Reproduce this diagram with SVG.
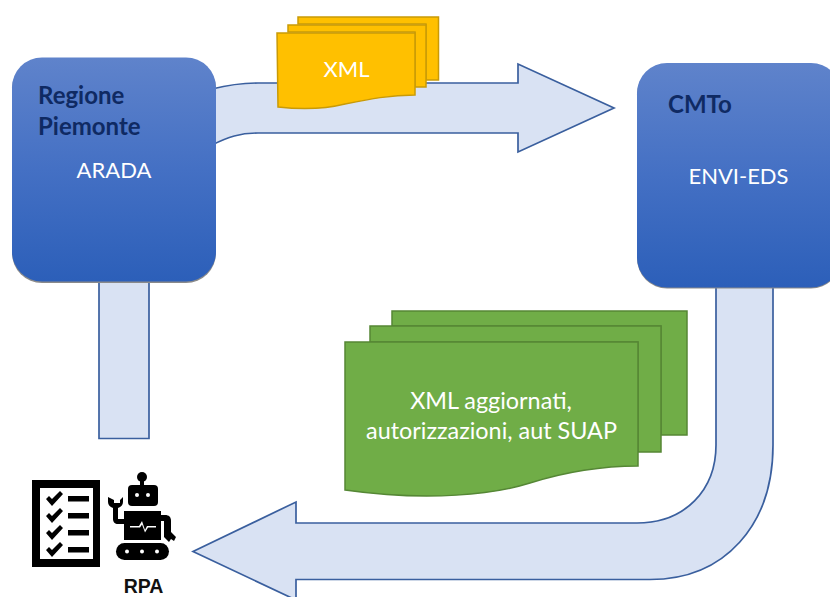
<svg xmlns="http://www.w3.org/2000/svg" width="830" height="597" viewBox="0 0 830 597">
<style>
.t{font-family:"Lato","Open Sans","Liberation Sans",sans-serif;font-size:22px;fill:#fff;text-anchor:middle}
.b{font-size:23.400px}
.h{font-family:"Lato","Open Sans","Liberation Sans",sans-serif;font-size:24px;font-weight:700;fill:#0f2a63}
.ar{fill:#d9e2f3;stroke:#3a5f9e;stroke-width:1.700}
.y{fill:#ffc000;stroke:#c99a06;stroke-width:1.500}
.g{fill:#70ad47;stroke:#558735;stroke-width:1.500}
.k{fill:#000}
.n{fill:url(#blue)}
.s{fill:#8a8a8a}
</style>
<defs>
<linearGradient id="blue" x1="0" y1="0" x2="0" y2="1"><stop offset="0" stop-color="#5f83cb"/><stop offset="0.5" stop-color="#4470c4"/><stop offset="1" stop-color="#2c5fb9"/></linearGradient>
</defs>
<rect width="830" height="597" fill="#fff"/>
<g id="connectors">
<path class="ar" d="M212 89C228 85 240 83 258 83H518V64L614 108L518 152V133H258C240 133 228 137 212 145Z"/>
<path class="ar" d="M99 278H149V438.500H99Z"/>
<path class="ar" d="M716 284H773V445C773 525 725 579.500 650 579.500H296V600L193 551.500L296 502V523H637C685 523 716 490 716 445Z"/>
</g>
<g id="node-regione">
<rect class="s" x="12" y="59" width="204" height="224" rx="30"/>
<rect class="n" x="12" y="57.500" width="204" height="224" rx="30"/>
<text class="h" x="38" y="104">Regione</text>
<text class="h" x="38" y="135">Piemonte</text>
<text class="t" x="114" y="178">ARADA</text>
</g>
<g id="node-cmto">
<rect class="s" x="637" y="64.500" width="204" height="224" rx="30"/>
<rect class="n" x="637" y="63" width="204" height="224.500" rx="30"/>
<text class="h" x="668" y="113">CMTo</text>
<text class="t" x="738.500" y="184">ENVI-EDS</text>
</g>
<g id="node-xml">
<path class="y" d="M298 17H438.500V80H426V24H298Z"/>
<path class="y" d="M288 25H426V87H415V32H288Z"/>
<path class="y" d="M277 33H415V95C390 95 370 99 345 104C325 109 305 110 278 107Z"/>
<text class="t" x="346.500" y="77">XML</text>
</g>
<g id="node-xml-aggiornati">
<path class="g" d="M392 311H687V435H661V326H392Z"/>
<path class="g" d="M370 326H661V452H638V342H370Z"/>
<path class="g" d="M345 342H638V466C600 466 565 472 530 483C495 494 430 502 345 490Z"/>
<text class="t b" x="491" y="409">XML aggiornati,</text>
<text class="t b" x="491.500" y="439">autorizzazioni, aut SUAP</text>
</g>
<g id="node-rpa">
<path class="k" fill-rule="evenodd" d="M32 480H100V567H32ZM40 488V559H93V488Z"/>
<g class="k">
<path d="M46 499l3-3 3 3 8-8 3 3-11 12zM46 516l3-3 3 3 8-8 3 3-11 12zM46 533l3-3 3 3 8-8 3 3-11 12zM46 550l3-3 3 3 8-8 3 3-11 12z"/>
<rect x="68" y="496" width="21" height="5.500"/><rect x="68" y="513" width="21" height="5.500"/><rect x="68" y="530" width="21" height="5.500"/><rect x="68" y="547" width="21" height="5.500"/>
<circle cx="142" cy="477" r="5"/><rect x="140" y="479" width="4" height="8"/>
<rect x="128" y="485" width="30" height="21" rx="4"/>
<rect x="124" y="511" width="37" height="29"/>
<rect x="116" y="543" width="53" height="17" rx="8.500"/>
<path d="M108 497v5c0 3 2 5 5 6v11c0 3 2 5 5 5h6v-5h-6v-11c3-1 5-3 5-6v-5l-3 3v3h-6v-3z"/>
<path d="M160 515h5c4 0 6 2 6 6v11l5 5-2 4-3-2-2 3-5-5v-16h-4z"/>
</g>
<g fill="#fff"><circle cx="127" cy="551.500" r="2"/><circle cx="142" cy="551.500" r="2"/><circle cx="157" cy="551.500" r="2"/><circle cx="137" cy="495" r="2"/><circle cx="148" cy="495" r="2"/><path d="M130 526h9l3-5 3 9 2-4h9v1.500h-8l-3 5-3-8-2 3h-10z"/></g>
<text x="143.500" y="593" font-family="Liberation Sans,Arial,sans-serif" font-size="19.500" font-weight="700" text-anchor="middle" fill="#111">RPA</text>
</g>
</svg>
